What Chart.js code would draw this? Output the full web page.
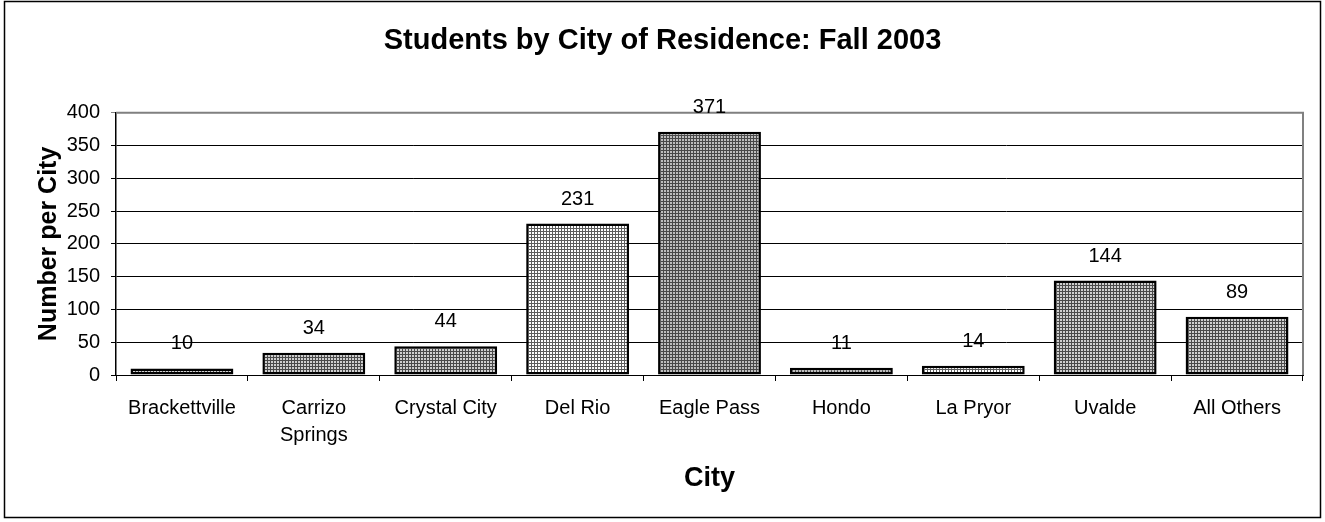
<!DOCTYPE html>
<html>
<head>
<meta charset="utf-8">
<script src="https://cdn.jsdelivr.net/npm/chart.js@4/dist/chart.umd.min.js"></script>
<style>
  html, body { margin: 0; padding: 0; background: #fff; }
  #wrap { position: relative; width: 1325px; height: 522px; }
  canvas { display: block; }
</style>
</head>
<body>
<div id="wrap"><canvas id="c" width="1325" height="522"></canvas></div>
<script>
const categories = ['Brackettville', ['Carrizo', 'Springs'], 'Crystal City', 'Del Rio', 'Eagle Pass', 'Hondo', 'La Pryor', 'Uvalde', 'All Others'];
const students = [10, 34, 44, 231, 371, 11, 14, 144, 89];
const yTicks = [0, 50, 100, 150, 200, 250, 300, 350, 400];
const patternKinds = ['medium', 'medium', 'medium', 'light', 'dark', 'dark', 'light', 'medium', 'medium'];

const FONT = 'Arial, "Liberation Sans", sans-serif';

function makePattern(kind) {
  const cfg = {
    light:  { bg: '#ffffff', line: '#5e5e5e', step: 3 },
    medium: { bg: '#cfcfcf', line: '#4a4a4a', step: 3 },
    dark:   { bg: '#bdbdbd', line: '#484848', step: 3 }
  }[kind];
  const p = document.createElement('canvas');
  p.width = cfg.step; p.height = cfg.step;
  const g = p.getContext('2d');
  g.fillStyle = cfg.bg;
  g.fillRect(0, 0, cfg.step, cfg.step);
  g.fillStyle = cfg.line;
  g.fillRect(0, 0, cfg.step, 1);
  g.fillRect(0, 0, 1, cfg.step);
  return document.getElementById('c').getContext('2d').createPattern(p, 'repeat');
}

const plotBorder = {
  id: 'plotBorder',
  beforeDatasetsDraw(chart) {
    const a = chart.chartArea, ctx = chart.ctx;
    ctx.save();
    ctx.strokeStyle = '#808080';
    ctx.lineWidth = 2;
    ctx.beginPath();
    ctx.moveTo(a.left, a.top);
    ctx.lineTo(a.right, a.top);
    ctx.lineTo(a.right, a.bottom);
    ctx.stroke();
    ctx.restore();
  },
  afterDraw(chart) {
    const ctx = chart.ctx;
    ctx.save();
    ctx.strokeStyle = '#000';
    ctx.lineWidth = 1.5;
    ctx.strokeRect(4.5, 1.5, 1316, 516);
    ctx.restore();
  }
};

const valueLabels = {
  id: 'valueLabels',
  afterDatasetsDraw(chart) {
    const ctx = chart.ctx;
    const meta = chart.getDatasetMeta(0);
    const ys = chart.scales.y;
    ctx.save();
    ctx.fillStyle = '#000';
    ctx.font = '20px ' + FONT;
    ctx.textAlign = 'center';
    ctx.textBaseline = 'alphabetic';
    meta.data.forEach((bar, i) => {
      const v = chart.data.datasets[0].data[i];
      ctx.fillText(String(v), bar.x, ys.getPixelForValue(v) - 19);
    });
    ctx.restore();
  }
};

new Chart(document.getElementById('c'), {
  type: 'bar',
  data: {
    labels: categories,
    datasets: [{
      data: students,
      backgroundColor: patternKinds.map(makePattern),
      borderColor: '#000',
      borderWidth: 2.5,
      borderSkipped: false,
      categoryPercentage: 1,
      barPercentage: 0.78
    }]
  },
  options: {
    responsive: false,
    animation: false,
    devicePixelRatio: 1,
    layout: { padding: { left: 22, right: 22, top: 0, bottom: 0 } },
    plugins: {
      legend: { display: false },
      tooltip: { enabled: false },
      title: {
        display: true,
        text: 'Students by City of Residence: Fall 2003',
        color: '#000',
        font: { family: FONT, size: 29, weight: 'bold', lineHeight: 1.2 },
        padding: { top: 24, bottom: 54 }
      }
    },
    scales: {
      x: {
        grid: { drawOnChartArea: false, drawTicks: true, tickLength: 6, offset: true, color: '#000', lineWidth: 1 },
        border: { display: true, color: '#000', width: 1 },
        ticks: { color: '#000', font: { family: FONT, size: 20, lineHeight: 1.35 }, padding: 14, maxRotation: 0, autoSkip: false },
        title: { display: true, text: 'City', color: '#000', font: { family: FONT, size: 27, weight: 'bold', lineHeight: 1.2 }, padding: { top: 0, bottom: 27 } },
        afterFit(s) { s.height = 147; }
      },
      y: {
        min: 0, max: 400,
        afterBuildTicks(s) { s.ticks = yTicks.map(v => ({ value: v })); },
        grid: {
          color: c => (c.tick && c.tick.value === 400) ? '#808080' : '#000',
          lineWidth: 1, drawTicks: true, tickLength: 5
        },
        border: { display: true, color: '#000', width: 1.5 },
        ticks: { color: '#000', font: { family: FONT, size: 20 }, padding: 11 },
        title: { display: true, text: 'Number per City', color: '#000', font: { family: FONT, size: 25, weight: 'bold', lineHeight: 1.2 }, padding: { top: 12, bottom: 0 } },
        afterFit(s) { s.width = 94; }
      }
    }
  },
  plugins: [plotBorder, valueLabels]
});
</script>
</body>
</html>
